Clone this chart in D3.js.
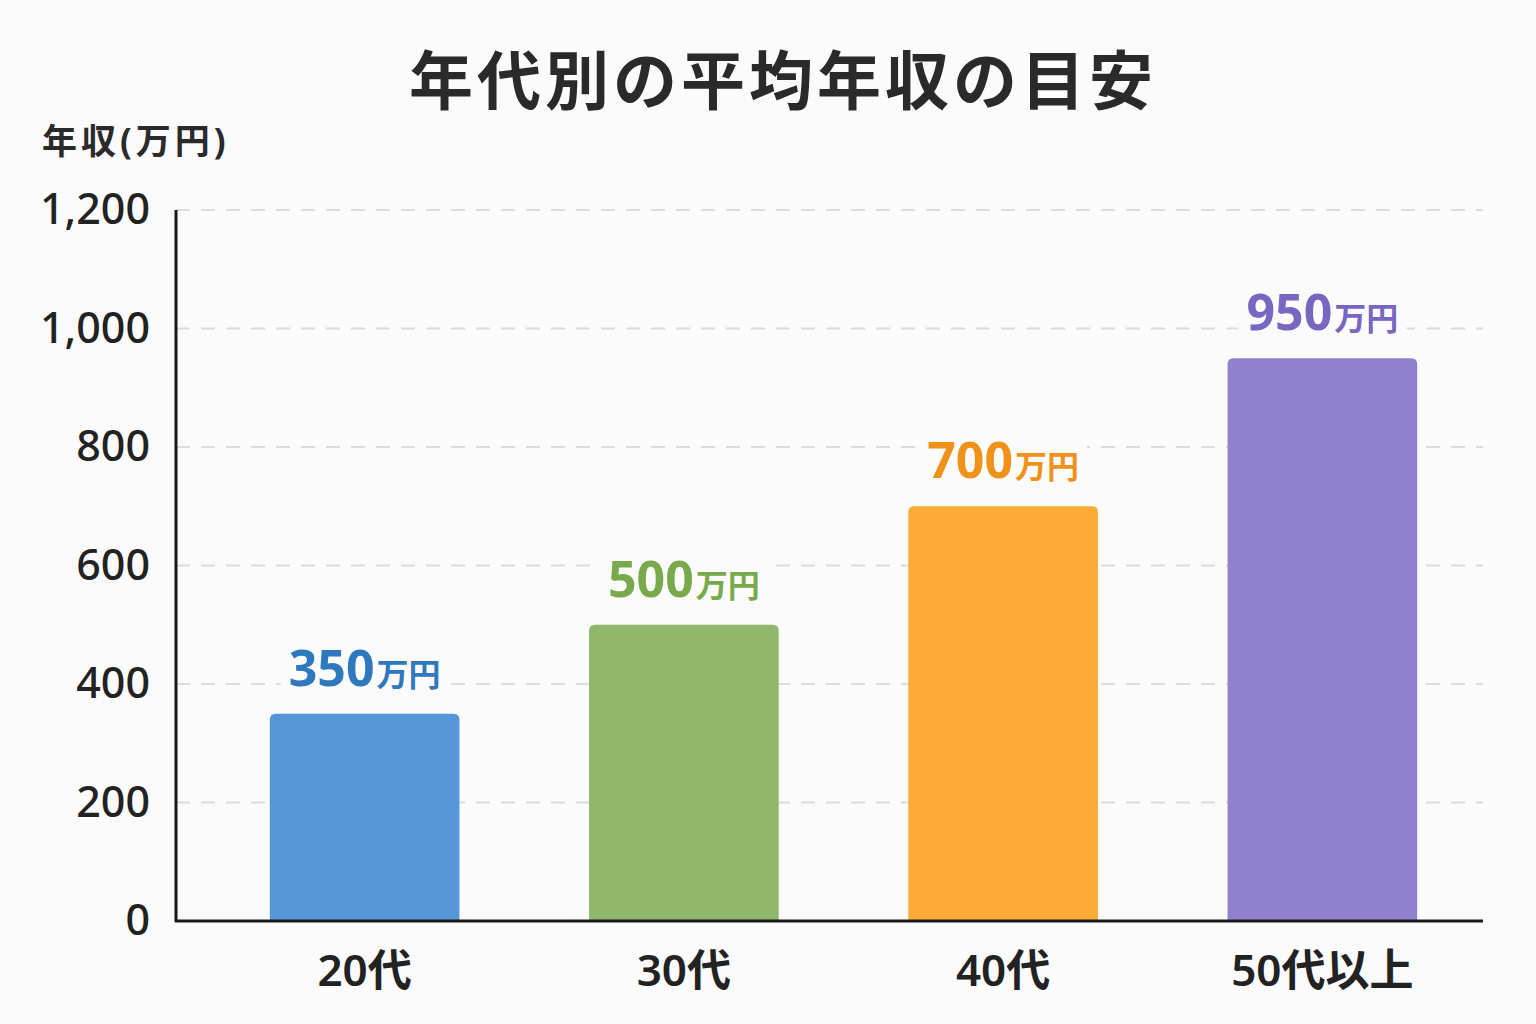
<!DOCTYPE html>
<html>
<head>
<meta charset="utf-8">
<script src="https://cdn.jsdelivr.net/npm/d3@7"></script>
<style>
  body { margin: 0; background: #fbfbfb; }
  text { font-family: "Noto Sans", "Noto Sans CJK JP", sans-serif; }
</style>
</head>
<body>
<div class="canvas"></div>
<script>
// data
const categories = ['20代', '30代', '40代', '50代以上'];
const incomes = [350, 500, 700, 950];
const barColors = ['#5596d6', '#8fb86c', '#fcac36', '#9181cd'];
const labelColors = ['#2e78bd', '#78aa4c', '#f0921a', '#7866c0'];
const yTicks = [0, 200, 400, 600, 800, 1000, 1200];

const W = 1536, H = 1024;
const bg = '#fbfbfb';

const svg = d3.select('.canvas').append('svg')
    .attr('width', W)
    .attr('height', H);

svg.append('rect').attr('width', W).attr('height', H).attr('fill', bg);

const plotLeft = 176, plotRight = 1483, plotTop = 210, plotBottom = 921;

const x = d3.scaleBand()
    .domain(categories)
    .range([205, 1482])
    .paddingInner(0.406)
    .paddingOuter(0.203);

const y = d3.scaleLinear()
    .domain([0, 1200])
    .range([plotBottom, plotTop]);

// title
svg.append('text')
    .attr('x', 783).attr('y', 104)
    .attr('text-anchor', 'middle')
    .attr('font-family', '"Noto Sans CJK JP", sans-serif')
    .attr('font-size', 64).attr('font-weight', 700)
    .attr('fill', '#2a2a2a')
    .attr('letter-spacing', 4)
    .text('年代別の平均年収の目安');

svg.append('text')
    .attr('x', 42).attr('y', 154)
    .attr('font-family', '"Noto Sans CJK JP", sans-serif')
    .attr('font-size', 35).attr('font-weight', 700)
    .attr('fill', '#2a2a2a')
    .attr('letter-spacing', 4)
    .text('年収(万円)');

// gridlines
svg.append('g')
    .selectAll('line')
    .data(yTicks.filter(d => d > 0))
    .join('line')
    .attr('x1', plotLeft).attr('x2', plotRight)
    .attr('y1', d => y(d)).attr('y2', d => y(d))
    .attr('stroke', '#dcdcdc')
    .attr('stroke-width', 2)
    .attr('stroke-dasharray', '14 11');

// y tick labels
const yAxis = svg.append('g')
    .attr('transform', `translate(${plotLeft},0)`)
    .call(d3.axisLeft(y).tickValues(yTicks).tickFormat(d3.format(',')).tickSize(0).tickPadding(26));
yAxis.select('.domain').remove();
yAxis.selectAll('text')
    .attr('font-size', 43).attr('font-weight', 500)
    .attr('fill', '#222')
    .attr('font-family', '"Noto Sans", sans-serif');

// bars
svg.append('g')
    .selectAll('path')
    .data(incomes)
    .join('path')
    .attr('fill', (d, i) => barColors[i])
    .attr('d', (d, i) => {
        const x0 = x(categories[i]), w = x.bandwidth();
        const y0 = y(d), r = 6;
        return `M${x0},${plotBottom} V${y0 + r} Q${x0},${y0} ${x0 + r},${y0} H${x0 + w - r} Q${x0 + w},${y0} ${x0 + w},${y0 + r} V${plotBottom} Z`;
    });

// value labels
const labels = svg.append('g')
    .selectAll('g')
    .data(incomes)
    .join('g')
    .attr('transform', (d, i) => `translate(${x(categories[i]) + x.bandwidth() / 2},${y(d) - 28})`);

labels.append('rect')
    .attr('x', -84).attr('y', -44)
    .attr('width', 168).attr('height', 52)
    .attr('fill', bg);

labels.append('text')
    .attr('text-anchor', 'middle')
    .attr('font-weight', 700)
    .attr('fill', (d, i) => labelColors[i])
    .call(t => {
        t.append('tspan').attr('font-size', 50).text(d => d);
        t.append('tspan').attr('font-size', 32).attr('dx', 2)
            .attr('font-family', '"Noto Sans CJK JP", sans-serif').text('万円');
    });

// axes lines
svg.append('line')
    .attr('x1', plotLeft).attr('x2', plotLeft)
    .attr('y1', plotTop).attr('y2', plotBottom + 1)
    .attr('stroke', '#1a1a1a').attr('stroke-width', 3);

svg.append('line')
    .attr('x1', plotLeft - 1).attr('x2', plotRight)
    .attr('y1', plotBottom).attr('y2', plotBottom)
    .attr('stroke', '#1a1a1a').attr('stroke-width', 3);

// category labels
svg.append('g')
    .selectAll('text')
    .data(categories)
    .join('text')
    .attr('x', d => x(d) + x.bandwidth() / 2)
    .attr('y', 986)
    .attr('text-anchor', 'middle')
    .attr('font-size', 44).attr('font-weight', 600)
    .attr('fill', '#222')
    .text(d => d);
</script>
</body>
</html>
